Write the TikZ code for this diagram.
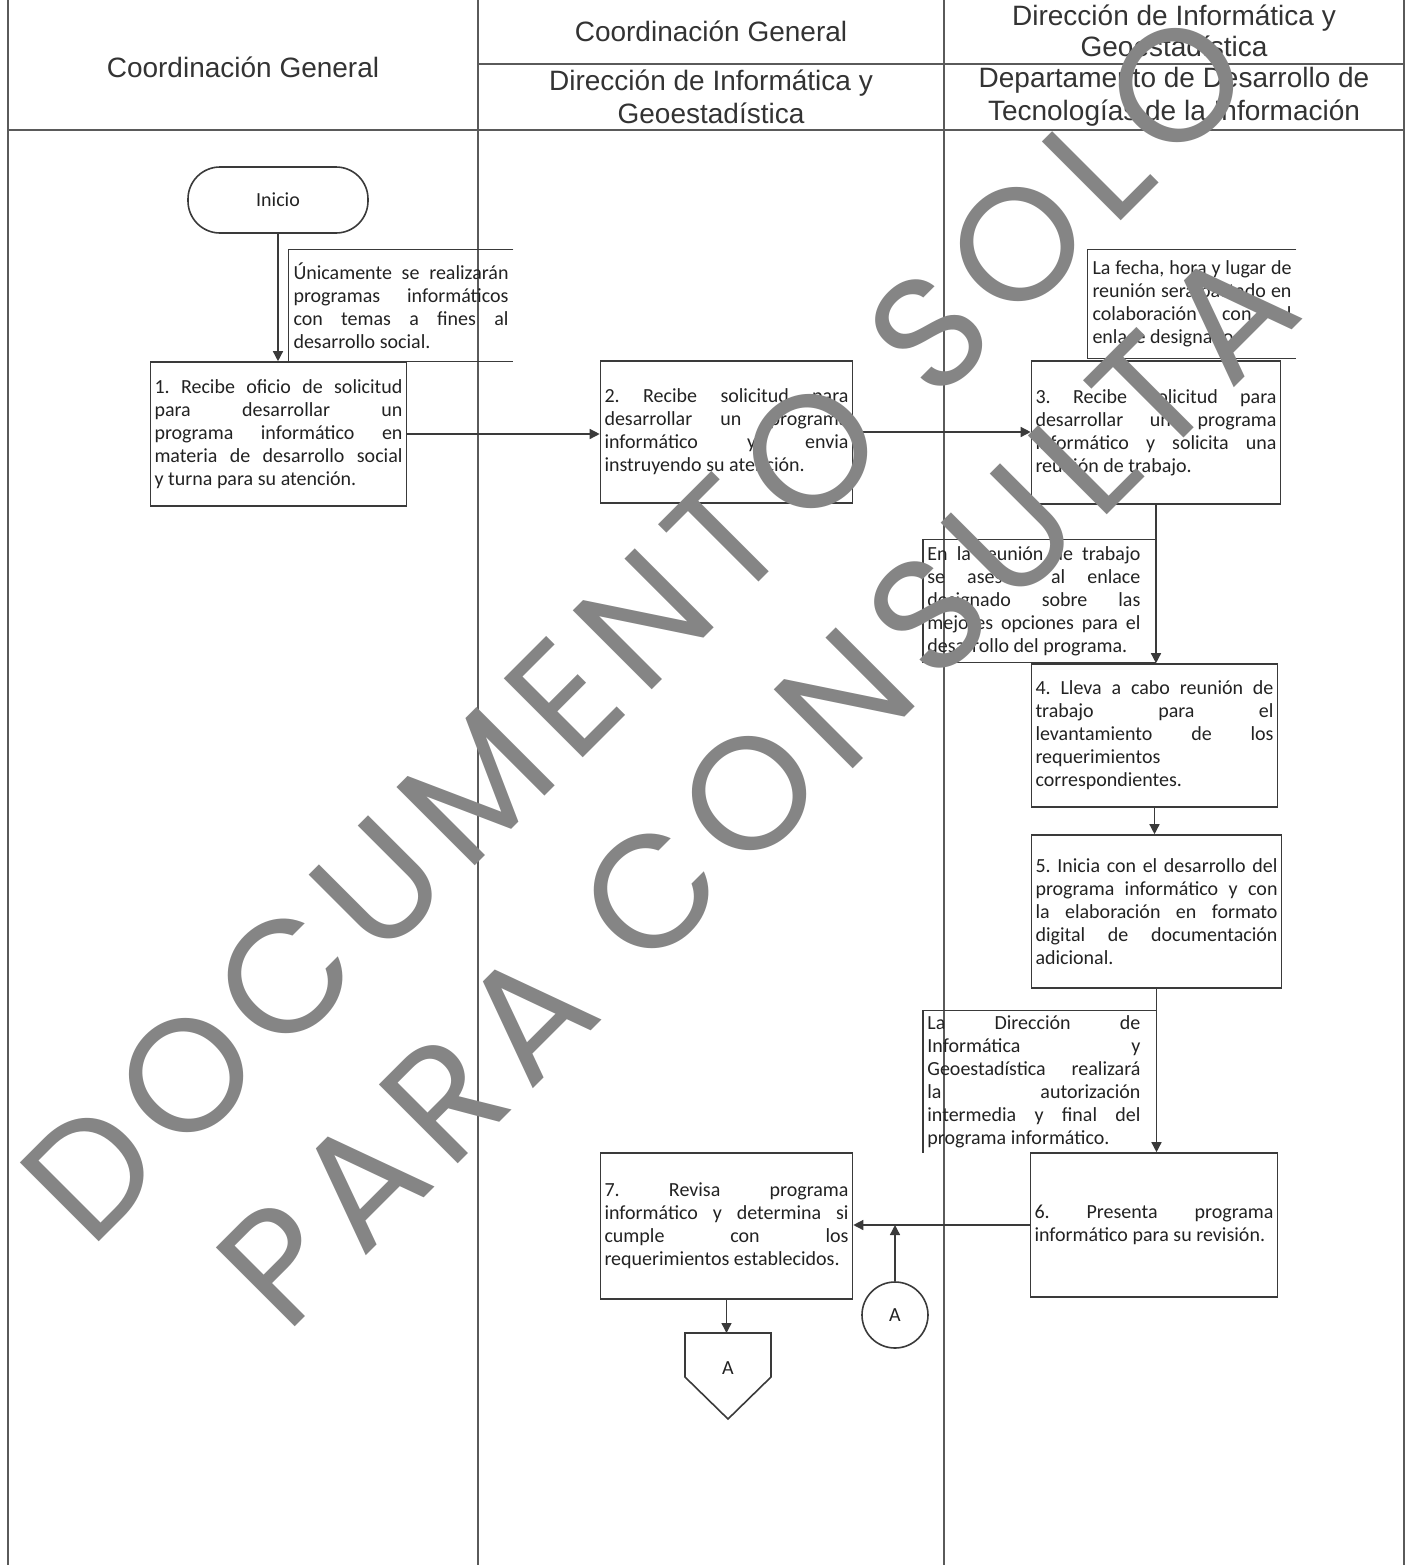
\documentclass[tikz,border=0pt]{standalone}
\usepackage{fontspec}
\setmainfont{Carlito}
\newfontfamily\hdrfont{Liberation Sans}
\newfontfamily\wmfont{Poppins}[LetterSpace=9.5]
\usetikzlibrary{arrows.meta}
\definecolor{linecol}{HTML}{3A3A3A}
\definecolor{framecol}{HTML}{5A5A5A}
\definecolor{hdrcol}{HTML}{333333}
\definecolor{txtcol}{HTML}{222222}
\definecolor{wmcol}{HTML}{858585}
\newcommand{\jw}{100pt}
\newcommand{\jl}[1]{\makebox[\jw][s]{\spaceskip=0.23em plus 1fil\relax\xspaceskip=\spaceskip #1}\\}
\newcommand{\bodyfs}{\fontsize{10pt}{11.5pt}\selectfont}
\newcommand{\hdrfs}{\hdrfont\fontsize{14pt}{16.5pt}\selectfont}
\begin{document}
\begin{tikzpicture}[x=0.5pt,y=-0.5pt,
  tw/.style={text width=#1, execute at begin node={\renewcommand{\jw}{#1}\spaceskip=0.23em\relax\xspaceskip=0.23em\relax}},
  proc/.style={draw=linecol, line width=0.8pt, inner xsep=2pt, inner ysep=0pt, align=left, font=\bodyfs, text=txtcol},
  annot/.style={inner xsep=2.25pt, inner ysep=0pt, align=left, font=\bodyfs, text=txtcol},
  flow/.style={draw=linecol, line width=0.7pt, -{Triangle[length=5pt,width=5pt]}},
  brk/.style={draw=linecol, line width=0.7pt},
  frame/.style={draw=framecol, line width=0.6pt},
  hdr/.style={align=center, font=\hdrfs, text=hdrcol, inner sep=0pt},
  wm/.style={rotate=45, text=wmcol, inner sep=0pt, font=\wmfont\fontsize{80pt}{80pt}\selectfont}
]
\useasboundingbox (0,0) rectangle (1410,1565);

% frame
\draw[frame] (8,0) -- (8,1565);
\draw[frame] (478,0) -- (478,1565);
\draw[frame] (944,0) -- (944,1565);
\draw[frame] (1404,0) -- (1404,1565);
\draw[frame] (8,130) -- (1404,130);
\draw[frame] (478,64) -- (1404,64);

% headers
\node[hdr] (h1) at (243,67) {Coordinación General};
\node[hdr] (h2a) at (711,31) {Coordinación General};
\node[hdr] (h2b) at (711,96.5) {Dirección de Informática y\\Geoestadística};
\node[hdr, font=\hdrfont\fontsize{14pt}{15.5pt}\selectfont] (h3a) at (1174,30.5) {Dirección de Informática y\\Geoestadística};
\node[hdr] (h3b) at (1174,96.5) {Departamento de Desarrollo de\\Tecnologías de la Información};

% start
\node[draw=linecol, line width=0.8pt, rounded corners=16pt, minimum width=90pt, minimum height=33pt, font=\bodyfs, text=txtcol] (ini) at (278,200) {Inicio};

% process boxes
\node[proc, tw=124pt, minimum height=72pt] (b1) at (278.5,434) {%
\jl{1. Recibe oficio de solicitud}
\jl{para desarrollar un}
\jl{programa informático en}
\jl{materia de desarrollo social}
y turna para su atención.};

\node[proc, tw=122pt, minimum height=71pt] (b2) at (726.5,432) {%
\jl{2. Recibe solicitud para}
\jl{desarrollar un programa}
\jl{informático y envia}
instruyendo su atención.};

\node[proc, tw=120.5pt, minimum height=71.5pt] (b3) at (1156,432.5) {%
\jl{3. Recibe solicitud para}
\jl{desarrollar un programa}
\jl{informático y solicita una}
reunión de trabajo.};

\node[proc, tw=119pt, minimum height=71.5pt] (b4) at (1154.5,735.5) {%
\jl{4. Lleva a cabo reunión de}
\jl{trabajo para el}
\jl{levantamiento de los}
requerimientos\\
correspondientes.};

\node[proc, tw=121pt, minimum height=76.5pt] (b5) at (1156.5,911.5) {%
\jl{5. Inicia con el desarrollo del}
\jl{programa informático y con}
\jl{la elaboración en formato}
\jl{digital de documentación}
adicional.};

\node[proc, tw=119.5pt, minimum height=72pt] (b6) at (1154,1225) {%
\jl{6. Presenta programa}
informático para su revisión.};

\node[proc, tw=122pt, minimum height=73pt] (b7) at (726.5,1226) {%
\jl{7. Revisa programa}
\jl{informático y determina si}
\jl{cumple con los}
requerimientos establecidos.};

% annotations
\node[annot, tw=107.5pt, minimum height=55.5pt] (a1) at (401,305.5) {%
\jl{Únicamente se realizarán}
\jl{programas informáticos}
\jl{con temas a fines al}
desarrollo social.};
\draw[brk] (a1.north east) -- (a1.north west) -- (a1.south west) -- (a1.south east);

\node[annot, tw=99.5pt, minimum height=54pt] (a3) at (1192,304) {%
\jl{La fecha, hora y lugar de}
\jl{reunión será pactado en}
\jl{colaboración con el}
enlace designado.};
\draw[brk] (a3.north east) -- (a3.north west) -- (a3.south west) -- (a3.south east);

\node[annot, inner xsep=2pt, tw=106.5pt, minimum height=61pt, anchor=west] (a4) at (923,601) {%
\jl{En la reunión de trabajo}
\jl{se asesora al enlace}
\jl{designado sobre las}
\jl{mejores opciones para el}
desarrollo del programa.};
\draw[brk] (a4.north west -| b3.south) -- (a4.north west) -- (a4.south west) -- (a4.south west -| b3.south);

\node[annot, inner xsep=2pt, tw=106.5pt, minimum height=71pt, anchor=west] (a6) at (923,1082) {%
\jl{La Dirección de}
\jl{Informática y}
\jl{Geoestadística realizará}
\jl{la autorización}
\jl{intermedia y final del}
programa informático.};
\draw[brk] (a6.north west -| b5.south) -- (a6.north west) -- (a6.south west);

% connectors
\node[circle, draw=linecol, line width=0.8pt, minimum size=33pt, inner sep=0pt, font=\bodyfs, text=txtcol] (conA) at (895,1315) {A};
\coordinate (offtop) at (728,1333);
\draw[brk, line width=0.8pt] (685,1333) -- (771,1333) -- (771,1377) -- (728,1419) -- (685,1377) -- cycle;
\node[font=\bodyfs, text=txtcol, inner sep=0pt] (offA) at (728,1368) {A};

% flow arrows
\draw[flow] (ini.south) -- (ini.south |- b1.north);
\draw[flow] (b1.east) -- (b1.east -| b2.west);
\draw[flow] (b2.east) -- (b2.east -| b3.west);
\draw[flow] (b3.south) -- (b3.south |- b4.north);
\draw[flow] (b4.south) -- (b4.south |- b5.north);
\draw[flow] (b5.south) -- (b5.south |- b6.north);
\draw[flow] (b6.west) -- (b6.west -| b7.east);
\draw[flow] (conA.north) -- (conA.north |- b6.west);
\draw[flow] (b7.south) -- (b7.south |- offtop);

% watermark
\node[wm] (wm1) at (636,626) {DOCUMENTO SOLO};
\node[wm] (wm2) at (757,786) {PARA CONSULTA};
\end{tikzpicture}
\end{document}
